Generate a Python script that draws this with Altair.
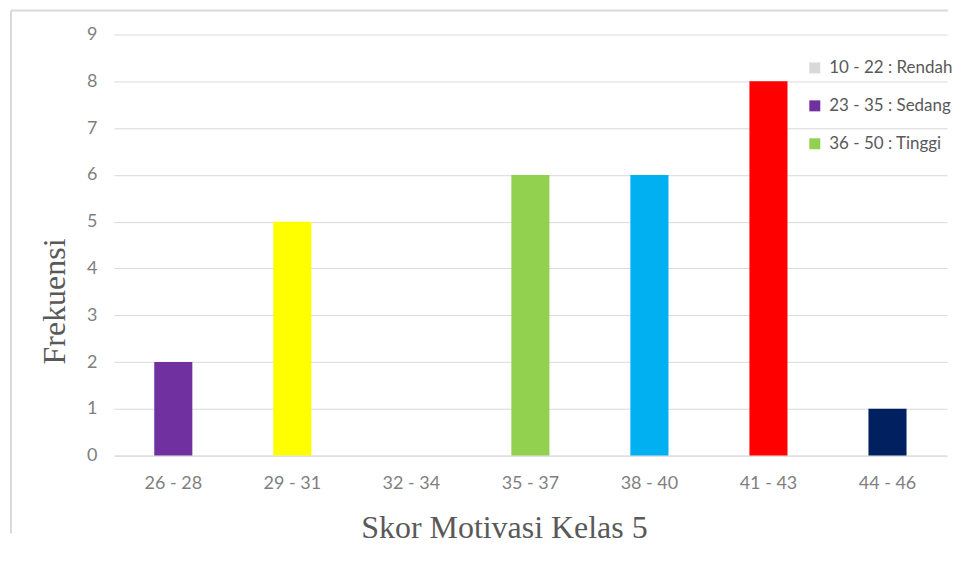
import altair as alt
import pandas as pd

categories = ["26 - 28", "29 - 31", "32 - 34", "35 - 37", "38 - 40", "41 - 43", "44 - 46"]
frequencies = [2, 5, 0, 6, 6, 8, 1]
bar_colors = ["#7030A0", "#FFFF00", "#A6A6A6", "#92D050", "#00B0F0", "#FF0000", "#002060"]

legend_labels = ["10 - 22 : Rendah", "23 - 35 : Sedang", "36 - 50 : Tinggi"]
legend_colors = ["#D9D9D9", "#7030A0", "#92D050"]

y_ticks = list(range(0, 10))

main_df = pd.DataFrame({"Skor": categories, "Frekuensi": frequencies})
legend_df = pd.DataFrame({"Skor": [categories[0]] * 3, "Frekuensi": [0] * 3, "Kategori": legend_labels})

LABEL_FONT = "Lato"
TITLE_FONT = "Liberation Serif"

x_enc = alt.X(
    "Skor:N",
    scale=alt.Scale(domain=categories, paddingInner=0.68, paddingOuter=0.34),
    axis=alt.Axis(
        title="Skor Motivasi Kelas 5",
        labelAngle=0,
        labelFont=LABEL_FONT,
        labelFontSize=18,
        labelColor="#7F7F7F",
        labelPadding=19,
        ticks=False,
        domainColor="#D9D9D9",
        domainWidth=1,
        grid=False,
        titleFont=TITLE_FONT,
        titleFontSize=32,
        titleFontWeight="normal",
        titleColor="#595959",
        titleX=391,
        titleY=82,
        titleBaseline="alphabetic",
        titleAlign="center",
    ),
)

y_enc = alt.Y(
    "Frekuensi:Q",
    scale=alt.Scale(domain=[0, 9], nice=False),
    axis=alt.Axis(
        title="Frekuensi",
        values=y_ticks,
        labelFont=LABEL_FONT,
        labelFontSize=18,
        labelColor="#7F7F7F",
        labelPadding=17,
        ticks=False,
        domain=False,
        gridColor="#D9D9D9",
        gridWidth=1,
        titleFont=TITLE_FONT,
        titleFontSize=32,
        titleFontWeight="normal",
        titleColor="#595959",
        titleX=-49,
        titleY=267,
        titleAngle=270,
        titleBaseline="alphabetic",
        titleAlign="center",
    ),
)

bars = alt.Chart(main_df).mark_bar().encode(
    x=x_enc,
    y=y_enc,
    color=alt.Color("Skor:N", scale=alt.Scale(domain=categories, range=bar_colors), legend=None),
)

legend_layer = alt.Chart(legend_df).mark_bar().encode(
    x=alt.X("Skor:N"),
    y=alt.Y("Frekuensi:Q"),
    color=alt.Color(
        "Kategori:N",
        scale=alt.Scale(domain=legend_labels, range=legend_colors),
        legend=alt.Legend(
            title=None,
            orient="none",
            legendX=694,
            legendY=25,
            padding=0,
            symbolType="square",
            symbolSize=121,
            symbolStrokeWidth=0,
            labelFont=LABEL_FONT,
            labelFontSize=17,
            labelColor="#595959",
            labelOffset=6,
            rowPadding=20,
        ),
    ),
)

border_data = alt.Data(values=[{"a": 1}])
top_border = alt.Chart(border_data).mark_rule(color="#D9D9D9", strokeWidth=2).encode(
    x=alt.value(-103), x2=alt.value(836), y=alt.value(-24)
)
left_border = alt.Chart(border_data).mark_rule(color="#D9D9D9", strokeWidth=2).encode(
    x=alt.value(-103), y=alt.value(-24), y2=alt.value(500)
)

chart = (
    alt.layer(bars, legend_layer, top_border, left_border)
    .resolve_scale(color="independent")
    .properties(
        width=835,
        height=422,
        padding={"left": 2, "top": 1, "right": 0, "bottom": 0},
        background="white",
    )
    .configure_view(stroke=None)
)

chart.save("out.html", embed_options={"renderer": "svg", "actions": False})
